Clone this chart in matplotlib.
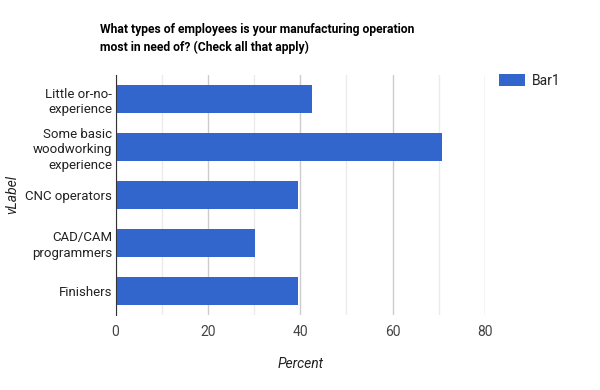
import matplotlib

matplotlib.use("Agg")
import matplotlib.pyplot as plt

categories = [
    "Little or-no-\nexperience",
    "Some basic\nwoodworking\nexperience",
    "CNC operators",
    "CAD/CAM\nprogrammers",
    "Finishers",
]
percent = [42.5, 70.7, 39.5, 30.2, 39.5]
x_ticks = [0, 20, 40, 60, 80]
x_minor = [10, 30, 50, 70]

plt.rcParams["font.family"] = ["Roboto", "DejaVu Sans"]

figure = plt.figure(figsize=(6, 3.9), dpi=100)
axis = figure.add_axes([115.5 / 600, 75 / 390, 369.5 / 600, 240 / 390])

positions = list(range(len(categories)))
axis.barh(positions, percent, height=0.6, color="#3366cc", label="Bar1", zorder=3)
axis.set_ylim(len(categories) - 0.5, -0.5)
axis.set_xlim(0, 80)

axis.set_xticks(x_ticks)
axis.set_xticks(x_minor, minor=True)
axis.grid(True, which="major", axis="x", color="#cccccc", linewidth=1, zorder=0)
axis.grid(True, which="minor", axis="x", color="#ebebeb", linewidth=1, zorder=0)
axis.tick_params(axis="x", which="both", length=0, pad=7, labelsize=10, labelcolor="#444444")
axis.set_yticks(positions)
axis.set_yticklabels(categories, linespacing=1.3)
axis.tick_params(axis="y", length=0, pad=2.5, labelsize=9.5, labelcolor="#222222")

for side in ("top", "right", "bottom"):
    axis.spines[side].set_visible(False)
axis.spines["left"].set_color("#333333")
axis.spines["left"].set_zorder(4)

axis.set_xlabel("Percent", fontstyle="italic", fontsize=10, color="#222222", labelpad=13)
figure.text(12 / 600, 1 - 195 / 390, "vLabel", rotation=90, fontstyle="italic",
            fontsize=10, color="#222222", ha="center", va="center")

figure.text(100 / 600, 1 - 38.5 / 390,
            "What types of employees is your manufacturing operation\nmost in need of? (Check all that apply)",
            fontsize=8.7, fontweight="bold", color="#000000", ha="left", va="center",
            linespacing=1.45)

axis.legend(loc="upper left", bbox_to_anchor=(499 / 600, 1 - 74 / 390),
            bbox_transform=figure.transFigure, frameon=False, fontsize=10,
            handlelength=1.9, handleheight=0.9, handletextpad=0.45, borderpad=0,
            borderaxespad=0, labelcolor="#222222")

figure.savefig("out.png", dpi=100)
